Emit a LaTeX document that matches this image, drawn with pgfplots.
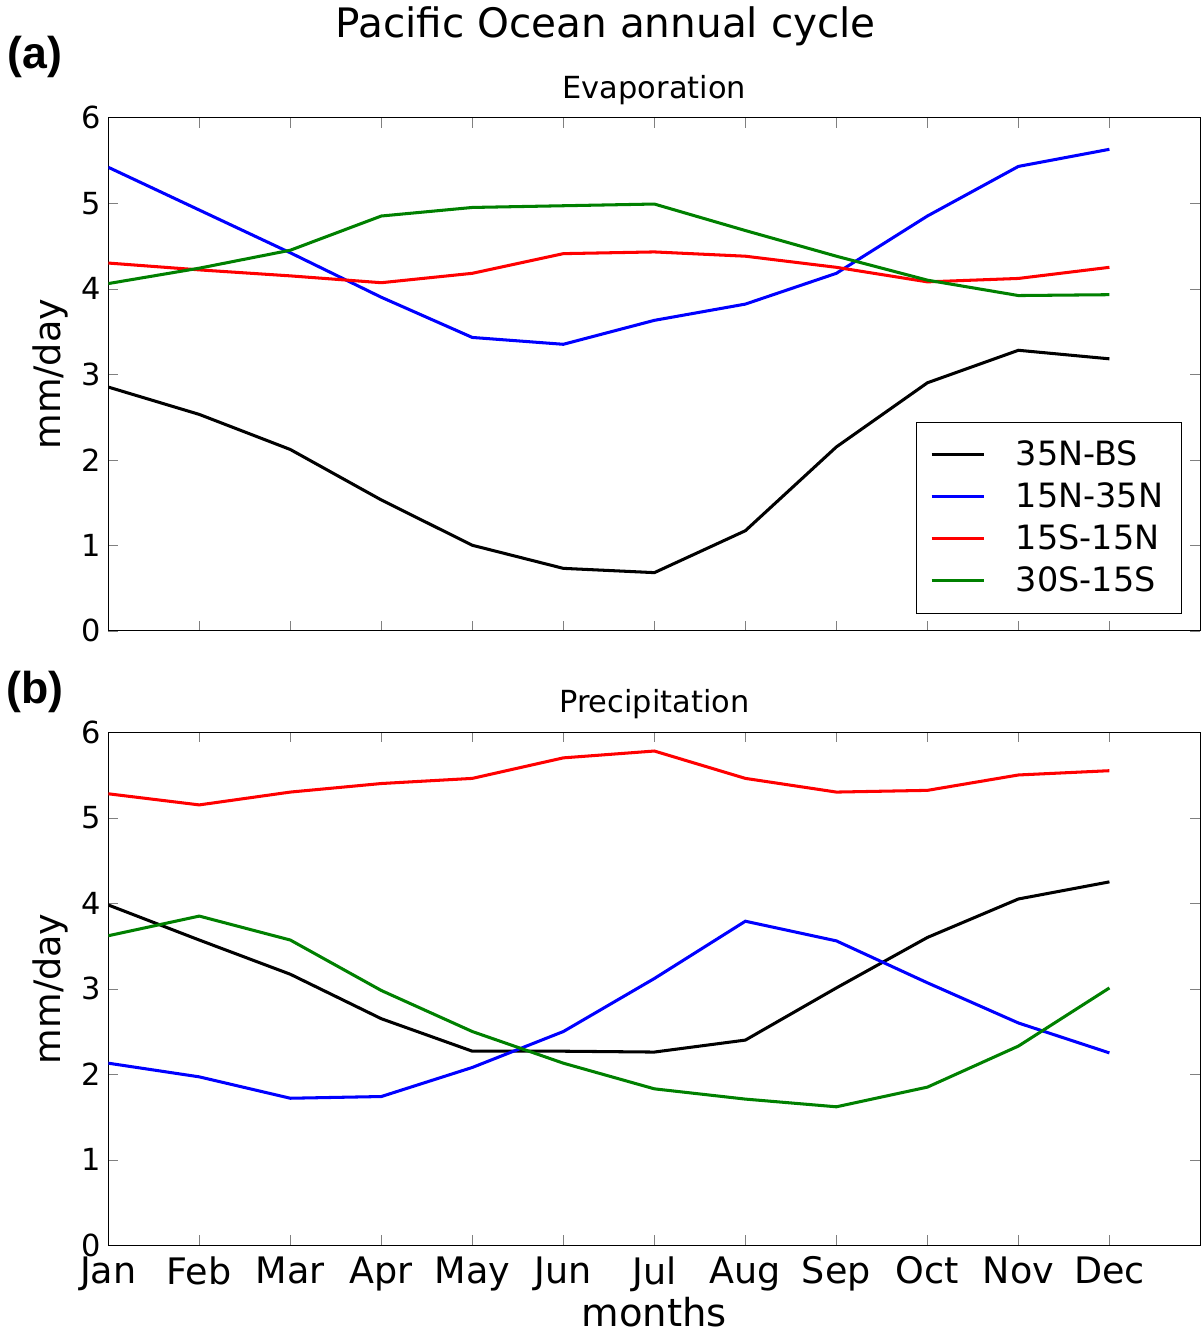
\documentclass[border=0pt]{standalone}
\usepackage{pgfplots}
\pgfplotsset{compat=1.18}
\usepackage{fontspec}
\setmainfont{DejaVu Sans}
\newfontfamily\lab{Liberation Sans}
\begin{document}
\begin{tikzpicture}
\pgfplotsset{
  every axis/.style={scale only axis, width=538.5pt, height=253pt,
    xmin=0, xmax=12, ymin=0, ymax=6, xtick={0,...,11},
    ytick={0,...,6}, tick align=inside, tick pos=both,
    major tick length=5pt,
    /pgf/number format/assume math mode=true,
    tick label style={font=\fontsize{15}{18}\selectfont},
    ylabel style={font=\fontsize{18}{21}\selectfont},
    title style={font=\fontsize{15}{18}\selectfont, yshift=-3pt},
    ylabel={mm/day},
    every axis plot/.append style={line width=1.5pt, no marks}}
}
\begin{axis}[name=a, at={(0,0)}, title={Evaporation}, xticklabels={},
  legend style={at={(0.983,0.034)}, anchor=south east, font=\fontsize{16.5}{24}\selectfont, draw=black, inner sep=7pt, row sep=3pt,
  legend image code/.code={\draw[#1, line width=1.5pt] (0cm,0cm) -- (0.9cm,0cm);}},
  legend cell align=left]
\addplot[black] coordinates {(0,2.85)(1,2.53)(2,2.12)(3,1.53)(4,1.0)(5,0.73)(6,0.68)(7,1.17)(8,2.15)(9,2.9)(10,3.28)(11,3.18)};
\addplot[blue] coordinates {(0,5.42)(1,4.92)(2,4.42)(3,3.9)(4,3.43)(5,3.35)(6,3.63)(7,3.82)(8,4.18)(9,4.85)(10,5.43)(11,5.63)};
\addplot[red] coordinates {(0,4.3)(1,4.22)(2,4.15)(3,4.07)(4,4.18)(5,4.41)(6,4.43)(7,4.38)(8,4.25)(9,4.08)(10,4.12)(11,4.25)};
\addplot[green!50!black] coordinates {(0,4.06)(1,4.24)(2,4.45)(3,4.85)(4,4.95)(5,4.97)(6,4.99)(7,4.68)(8,4.38)(9,4.1)(10,3.92)(11,3.93)};
\legend{\hspace{0.8em}35N-BS,\hspace{0.8em}15N-35N,\hspace{0.8em}15S-15N,\hspace{0.8em}30S-15S}
\end{axis}
\begin{axis}[name=b, at={(0,-303pt)}, title={Precipitation},
  xticklabels={Jan,Feb,Mar,Apr,May,Jun,Jul,Aug,Sep,Oct,Nov,Dec},
  xticklabel style={font=\fontsize{18}{21}\selectfont, yshift=-2pt},
  xlabel={months}, xlabel style={font=\fontsize{19}{21}\selectfont, yshift=4pt}]
\addplot[black] coordinates {(0,3.98)(1,3.57)(2,3.17)(3,2.65)(4,2.27)(5,2.27)(6,2.26)(7,2.4)(8,3.01)(9,3.6)(10,4.05)(11,4.25)};
\addplot[blue] coordinates {(0,2.13)(1,1.97)(2,1.72)(3,1.74)(4,2.08)(5,2.5)(6,3.12)(7,3.79)(8,3.56)(9,3.07)(10,2.6)(11,2.25)};
\addplot[red] coordinates {(0,5.28)(1,5.15)(2,5.3)(3,5.4)(4,5.46)(5,5.7)(6,5.78)(7,5.46)(8,5.3)(9,5.32)(10,5.5)(11,5.55)};
\addplot[green!50!black] coordinates {(0,3.62)(1,3.85)(2,3.57)(3,2.98)(4,2.5)(5,2.13)(6,1.83)(7,1.71)(8,1.62)(9,1.85)(10,2.33)(11,3.01)};
\end{axis}
\node[font=\lab\bfseries\fontsize{22}{24}\selectfont] at ([xshift=-36pt,yshift=30pt]a.north west) {(a)};
\node[font=\lab\bfseries\fontsize{22}{24}\selectfont] at ([xshift=-36pt,yshift=20pt]b.north west) {(b)};
\node[font=\fontsize{20}{24}\selectfont] at ([xshift=-24pt,yshift=45pt]a.north) {Pacific Ocean annual cycle};
\end{tikzpicture}
\end{document}
